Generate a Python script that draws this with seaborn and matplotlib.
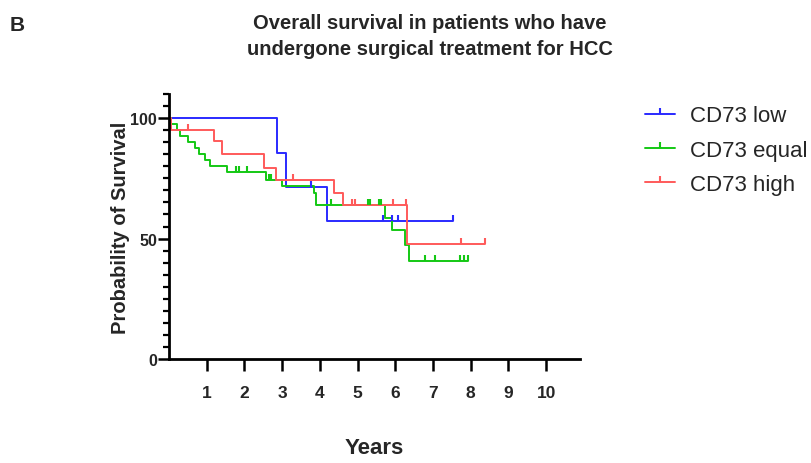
import matplotlib
matplotlib.use("Agg")
import matplotlib.pyplot as plt
from matplotlib.lines import Line2D
from matplotlib.ticker import MultipleLocator
import seaborn as sns
import pandas as pd

# ---- data ----
groups = ["CD73 low", "CD73 equal", "CD73 high"]
colors = ["#2a2aff", "#14c814", "#ff5a5a"]

low_times = [2.87, 3.10, 4.20]
low_surv = [85.7, 71.4, 57.1]
low_end = 7.53
low_cens_t = [3.76, 5.68, 5.92, 6.07, 7.53]
low_cens_s = [71.4, 57.1, 57.1, 57.1, 57.1]

eq_times = [0.05, 0.20, 0.30, 0.50, 0.70, 0.80, 0.95, 1.10, 1.55, 2.57, 3.00, 3.85, 3.90, 5.73, 5.92, 6.27, 6.37]
eq_surv = [97.5, 95.0, 92.5, 90.0, 87.5, 85.0, 82.5, 80.0, 77.5, 74.5, 71.8, 69.0, 64.0, 58.5, 53.5, 47.5, 40.8]
eq_end = 7.94
eq_cens_t = [1.77, 1.86, 2.08, 2.65, 2.70, 4.29, 5.28, 5.33, 5.58, 5.63, 6.79, 7.06, 7.72, 7.83, 7.94]
eq_cens_s = [77.5, 77.5, 77.5, 74.5, 74.5, 64.0, 64.0, 64.0, 64.0, 64.0, 40.8, 40.8, 40.8, 40.8, 40.8]

hi_times = [0.05, 1.19, 1.41, 2.52, 2.85, 4.38, 4.62, 6.30]
hi_surv = [95.2, 90.3, 85.0, 79.2, 74.3, 68.9, 63.9, 47.9]
hi_end = 8.38
hi_cens_t = [0.51, 3.29, 4.84, 4.93, 5.95, 6.29, 7.75, 8.38]
hi_cens_s = [95.2, 74.3, 63.9, 63.9, 63.9, 63.9, 47.9, 47.9]

x_ticks = [1, 2, 3, 4, 5, 6, 7, 8, 9, 10]
y_ticks = [0, 50, 100]

# ---- build table ----
series = [
    (low_times, low_surv, low_end, low_cens_t, low_cens_s),
    (eq_times, eq_surv, eq_end, eq_cens_t, eq_cens_s),
    (hi_times, hi_surv, hi_end, hi_cens_t, hi_cens_s),
]
rows = []
for g, (t, s, end, _, _) in zip(groups, series):
    tt = [0.0] + list(t) + [end]
    ss = [100.0] + list(s) + [s[-1]]
    for a, b in zip(tt, ss):
        rows.append({"group": g, "Years": a, "surv": b})
df = pd.DataFrame(rows)

sns.set_style("ticks")
plt.rcParams["font.family"] = ["Liberation Sans", "DejaVu Sans"]

fig = plt.figure(figsize=(8.11, 4.64), dpi=100)
ax = fig.add_axes([0.2084, 0.2241, 0.5068, 0.5711])

palette = dict(zip(groups, colors))
sns.lineplot(data=df, x="Years", y="surv", hue="group", palette=palette,
             estimator=None, sort=False, drawstyle="steps-post",
             linewidth=1.4, legend=False, ax=ax)
for g, c, (_, _, _, ct, cs) in zip(groups, colors, series):
    ax.plot(ct, cs, linestyle="none", marker=2, markersize=4.5,
            markeredgewidth=1.5, color=c)

ax.set_xlim(0, 10.9)
ax.set_ylim(0, 110)
ax.set_xticks(x_ticks)
ax.set_xticklabels([str(v) for v in x_ticks], fontsize=12.5, fontweight="bold")
ax.set_yticks(y_ticks)
ax.set_yticklabels([str(v) for v in y_ticks], fontsize=11.5, fontweight="bold")
ax.yaxis.set_minor_locator(MultipleLocator(5))
ax.tick_params(axis="x", which="major", length=8.5, width=1.8, color="black", pad=10)
ax.tick_params(axis="y", which="major", length=8, width=1.8, color="black", pad=0.5)
ax.tick_params(axis="y", which="minor", length=4.5, width=1.6, color="black")
for side in ["top", "right"]:
    ax.spines[side].set_visible(False)
for side in ["left", "bottom"]:
    ax.spines[side].set_linewidth(2)
    ax.spines[side].set_color("black")

ax.set_xlabel("Years", fontsize=16, fontweight="bold", labelpad=27)
ax.set_ylabel("Probability of Survival", fontsize=14.5, fontweight="bold")
ax.yaxis.set_label_coords(-0.094, 0.5)

fig.text(0.530, 0.970, "Overall survival in patients who have\nundergone surgical treatment for HCC",
         ha="center", va="top", fontsize=14.5, fontweight="bold", linespacing=1.5)
fig.text(0.012, 0.966, "B", ha="left", va="top", fontsize=15, fontweight="bold")

handles = [Line2D([], [], color=c, linewidth=1.4, marker=2, markersize=4.5,
                  markeredgewidth=1.5) for c in colors]
ax.legend(handles, groups, loc="upper left", bbox_to_anchor=(0.784, 0.79),
          bbox_transform=fig.transFigure, frameon=False, fontsize=16,
          numpoints=1, handlelength=1.35, handletextpad=0.68, labelspacing=0.6,
          borderaxespad=0)

fig.savefig("out.png", dpi=100)
